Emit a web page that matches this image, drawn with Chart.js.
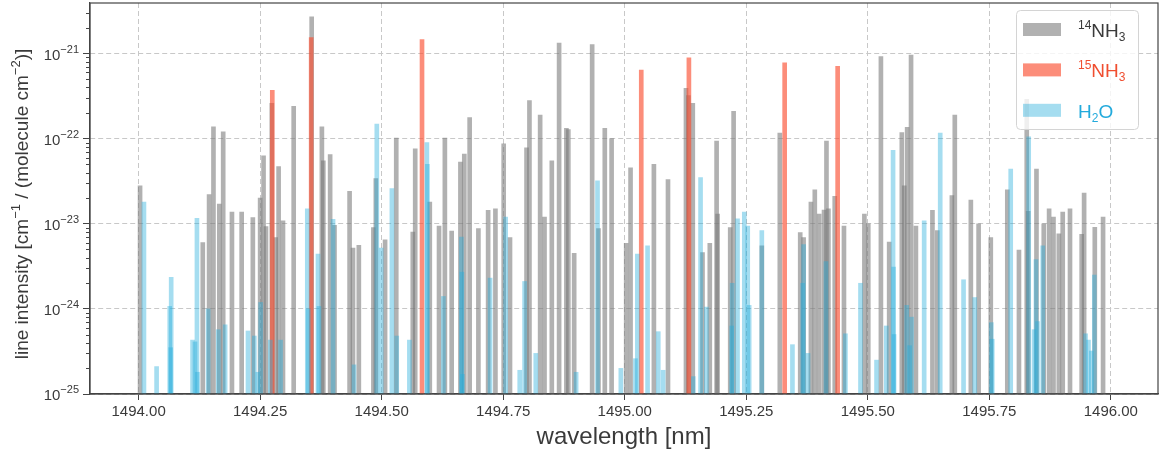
<!DOCTYPE html>
<html>
<head>
<meta charset="utf-8">
<script src="https://cdn.jsdelivr.net/npm/chart.js@4"></script>
<style>
html, body { margin: 0; padding: 0; background: #fff; }
#wrap { width: 1163px; height: 455px; }
</style>
</head>
<body>
<div id="wrap"><canvas id="spectrum" width="1163" height="455"></canvas></div>
<script>
// line positions [nm] and line intensities [cm^-1 / (molecule cm^-2)]
const nh3_14_wl = [
  1494.003, 1494.132, 1494.145, 1494.154, 1494.166, 1494.174, 1494.192, 1494.212, 1494.235, 1494.250,
  1494.257, 1494.262, 1494.274, 1494.282, 1494.288, 1494.297, 1494.319, 1494.356, 1494.377, 1494.380,
  1494.394, 1494.403, 1494.434, 1494.441, 1494.453, 1494.483, 1494.488, 1494.507, 1494.530, 1494.564,
  1494.569, 1494.599, 1494.618, 1494.630, 1494.644, 1494.662, 1494.670, 1494.681, 1494.699, 1494.719,
  1494.734, 1494.751, 1494.764, 1494.798, 1494.804, 1494.826, 1494.835, 1494.850, 1494.865, 1494.880,
  1494.884, 1494.896, 1494.933, 1494.946, 1494.959, 1494.973, 1495.003, 1495.012, 1495.060, 1495.089,
  1495.126, 1495.131, 1495.140, 1495.160, 1495.175, 1495.189, 1495.191, 1495.217, 1495.224, 1495.282,
  1495.319, 1495.361, 1495.368, 1495.383, 1495.391, 1495.400, 1495.410, 1495.415, 1495.419, 1495.432,
  1495.451, 1495.493, 1495.501, 1495.527, 1495.544, 1495.570, 1495.575, 1495.581, 1495.589, 1495.599,
  1495.633, 1495.643, 1495.673, 1495.679, 1495.712, 1495.728, 1495.753, 1495.787, 1495.811, 1495.827,
  1495.830, 1495.847, 1495.862, 1495.873, 1495.882, 1495.893, 1495.901, 1495.916, 1495.940, 1495.945,
  1495.967, 1495.984
];
const nh3_14_int = [
  2.8e-23, 6.0e-24, 2.2e-23, 1.38e-22, 1.7e-23, 1.2e-22, 1.37e-23, 1.37e-23, 1.18e-23, 2.0e-23,
  6.3e-23, 9.3e-24, 2.6e-22, 6.9e-24, 4.7e-23, 1.08e-23, 2.4e-22, 2.7e-21, 1.38e-22, 5.5e-23,
  6.5e-23, 9.6e-24, 2.4e-23, 5.2e-24, 5.6e-24, 9.0e-24, 3.4e-23, 6.5e-24, 1.02e-22, 8.0e-24,
  7.6e-23, 1.8e-23, 9.4e-24, 1.02e-22, 8.2e-24, 5.3e-23, 6.6e-23, 1.77e-22, 8.8e-24, 1.44e-23,
  1.5e-23, 8.7e-23, 6.9e-24, 7.8e-23, 2.8e-22, 1.9e-22, 1.2e-23, 5.5e-23, 1.33e-21, 1.32e-22,
  1.28e-22, 4.5e-24, 1.28e-21, 8.8e-24, 1.32e-22, 1.0e-22, 5.9e-24, 4.56e-23, 5.0e-23, 3.3e-23,
  3.9e-22, 3.2e-22, 2.6e-22, 4.6e-24, 5.9e-24, 9.4e-23, 1.3e-23, 9.0e-24, 2.1e-22, 5.5e-24,
  1.16e-22, 7.9e-24, 6.9e-24, 1.8e-23, 2.5e-23, 1.3e-23, 1.45e-23, 9.4e-23, 1.5e-23, 2.1e-23,
  9.4e-24, 1.3e-23, 1.0e-23, 9.2e-22, 6.1e-24, 1.18e-22, 2.8e-23, 1.36e-22, 9.6e-22, 9.4e-24,
  1.44e-23, 8.3e-24, 2.15e-23, 1.9e-22, 1.9e-23, 1.0e-23, 6.9e-24, 2.5e-23, 4.9e-24, 2.9e-22,
  1.4e-23, 4.4e-23, 1.0e-23, 1.5e-23, 1.2e-23, 7.6e-24, 1.37e-23, 1.5e-23, 7.5e-24, 2.3e-23,
  9.1e-24, 1.2e-23
];

const nh3_15_wl = [1494.275, 1494.355, 1494.583, 1495.034, 1495.132, 1495.329, 1495.438];
const nh3_15_int = [3.7e-22, 1.54e-21, 1.46e-21, 6.4e-22, 8.9e-22, 7.8e-22, 7.1e-22];

const h2o_wl = [
  1494.011, 1494.037, 1494.064, 1494.066, 1494.067, 1494.111, 1494.116, 1494.120, 1494.121, 1494.143,
  1494.164, 1494.178, 1494.225, 1494.238, 1494.245, 1494.251, 1494.271, 1494.292, 1494.347, 1494.349,
  1494.369, 1494.371, 1494.400, 1494.443, 1494.490, 1494.499, 1494.521, 1494.531, 1494.557, 1494.593,
  1494.594, 1494.627, 1494.664, 1494.665, 1494.666, 1494.723, 1494.755, 1494.784, 1494.794, 1494.817,
  1494.900, 1494.944, 1494.992, 1495.022, 1495.026, 1495.047, 1495.069, 1495.079, 1495.141, 1495.156,
  1495.168, 1495.220, 1495.221, 1495.232, 1495.246, 1495.253, 1495.256, 1495.282, 1495.345, 1495.366,
  1495.368, 1495.377, 1495.414, 1495.454, 1495.485, 1495.518, 1495.538, 1495.552, 1495.553, 1495.554,
  1495.580, 1495.586, 1495.590, 1495.616, 1495.649, 1495.697, 1495.720, 1495.754, 1495.756, 1495.794,
  1495.831, 1495.842, 1495.846, 1495.849, 1495.860, 1495.948, 1495.954, 1495.960, 1495.966
];
const h2o_int = [
  1.8e-23, 2.1e-25, 1.07e-24, 3.5e-25, 2.35e-24, 4.3e-25, 4.1e-25, 1.16e-23, 1.8e-25, 1.0e-24,
  5.7e-25, 6.5e-25, 5.5e-25, 4.8e-25, 1.8e-25, 1.19e-24, 4.3e-25, 4.3e-25, 1.5e-23, 1.0e-24,
  4.4e-24, 1.07e-24, 1.13e-23, 2.2e-25, 1.48e-22, 5.2e-24, 2.6e-23, 4.8e-25, 4.3e-25, 9.0e-23,
  5.0e-23, 1.4e-24, 7.0e-24, 2.7e-24, 1.7e-25, 2.3e-24, 1.2e-23, 1.9e-25, 2.1e-24, 3.0e-25,
  1.8e-25, 3.2e-23, 2.0e-25, 2.6e-25, 4.4e-24, 5.5e-24, 5.4e-25, 1.9e-25, 1.6e-25, 3.5e-23,
  1.05e-24, 6.3e-25, 2.0e-24, 1.14e-23, 1.37e-23, 9.4e-24, 1.1e-24, 8.3e-24, 3.8e-25, 2.0e-24,
  5.7e-24, 3.0e-25, 3.6e-24, 5.1e-25, 2.0e-24, 2.5e-25, 6.3e-25, 7.3e-23, 3.1e-24, 5.0e-25,
  1.1e-24, 3.7e-25, 8.0e-25, 1.08e-23, 1.16e-22, 2.2e-24, 1.36e-24, 6.9e-25, 4.4e-25, 4.4e-23,
  1.05e-22, 5.7e-25, 3.8e-24, 7.1e-25, 5.5e-24, 5.1e-25, 4.3e-25, 3.2e-25, 2.5e-24
];

const xTicks = [1494.00, 1494.25, 1494.50, 1494.75, 1495.00, 1495.25, 1495.50, 1495.75, 1496.00];
const yTicks = [1e-25, 1e-24, 1e-23, 1e-22, 1e-21];
const yTickExps = ['\u221225', '\u221224', '\u221223', '\u221222', '\u221221'];

const FONT = '"Liberation Sans", Arial, "DejaVu Sans", sans-serif';
const TEXT = '#3a3a3a';
Chart.defaults.font.family = FONT;

const greyFill = 'rgba(120,120,120,0.58)';
const redFill = 'rgba(250,80,50,0.65)';
const blueFill = 'rgba(40,175,220,0.42)';

const pts = (wl, val) => wl.map((x, i) => ({ x: x, y: val[i] }));

// legend entries: swatch colour, text colour, text pieces [text, size, dy]
const legendRows = [
  { fill: greyFill, text: '#3a3a3a', parts: [['14', 12, -8], ['NH', 19, 0], ['3', 12, 4]] },
  { fill: redFill, text: 'rgb(240,78,48)', parts: [['15', 12, -8], ['NH', 19, 0], ['3', 12, 4]] },
  { fill: blueFill, text: 'rgb(35,170,220)', parts: [['H', 19, 0], ['2', 12, 4], ['O', 19, 0]] }
];
const yTitleParts = [
  ['line intensity [cm', 19, 0], ['\u22121', 13, -8], [' / (molecule cm', 19, 0], ['\u22122', 13, -8], [')]', 19, 0]
];

function richWidth(ctx, parts) {
  let w = 0;
  for (const [t, size] of parts) {
    ctx.font = size + 'px ' + FONT;
    w += ctx.measureText(t).width;
  }
  return w;
}

function drawRich(ctx, x, y, parts, color) {
  ctx.fillStyle = color;
  ctx.textBaseline = 'alphabetic';
  ctx.textAlign = 'left';
  for (const [t, size, dy] of parts) {
    ctx.font = size + 'px ' + FONT;
    ctx.fillText(t, x, y + dy);
    x += ctx.measureText(t).width;
  }
}

const framePlugin = {
  id: 'frame',
  afterDraw(chart) {
    const { ctx, chartArea: a, scales: { y } } = chart;
    ctx.save();
    // minor ticks on the log axis
    ctx.strokeStyle = '#444';
    ctx.lineWidth = 1;
    for (let e = -25; e <= -21; e++) {
      for (let k = 2; k <= 9; k++) {
        const v = k * Math.pow(10, e);
        if (v > y.max) break;
        const py = Math.round(y.getPixelForValue(v)) + 0.5;
        ctx.beginPath();
        ctx.moveTo(a.left - 4, py);
        ctx.lineTo(a.left, py);
        ctx.stroke();
      }
    }
    // full frame round the plot
    ctx.strokeStyle = '#444';
    ctx.lineWidth = 1.2;
    ctx.strokeRect(a.left, a.top, a.right - a.left, a.bottom - a.top);

    // y tick labels as 10 with raised exponent
    yTicks.forEach((v, i) => {
      const py = y.getPixelForValue(v);
      const parts = [['10', 15, 0], [yTickExps[i], 11, -7]];
      const w = richWidth(ctx, parts);
      drawRich(ctx, a.left - 11 - w, py + 6, parts, TEXT);
    });

    // y axis title, rotated
    ctx.save();
    ctx.translate(28, 204);
    ctx.rotate(-Math.PI / 2);
    const tw = richWidth(ctx, yTitleParts);
    drawRich(ctx, -tw / 2, 0, yTitleParts, TEXT);
    ctx.restore();

    // legend box
    const bx = 1016, by = 10, bw = 122, bh = 119;
    ctx.beginPath();
    ctx.roundRect(bx + 0.5, by + 0.5, bw, bh, 4);
    ctx.fillStyle = 'rgba(255,255,255,0.8)';
    ctx.fill();
    ctx.strokeStyle = '#d4d4d4';
    ctx.lineWidth = 1;
    ctx.stroke();
    legendRows.forEach((r, i) => {
      const base = 37 + i * 40.4;
      ctx.fillStyle = r.fill;
      ctx.fillRect(1023, base - 14, 38, 13);
      drawRich(ctx, 1078, base, r.parts, r.text);
    });
    ctx.restore();
  }
};

new Chart(document.getElementById('spectrum'), {
  type: 'bar',
  data: {
    datasets: [
      { label: '14NH3', data: pts(nh3_14_wl, nh3_14_int), backgroundColor: greyFill, order: 3 },
      { label: '15NH3', data: pts(nh3_15_wl, nh3_15_int), backgroundColor: redFill, order: 2 },
      { label: 'H2O', data: pts(h2o_wl, h2o_int), backgroundColor: blueFill, order: 1 }
    ]
  },
  options: {
    responsive: false,
    animation: false,
    devicePixelRatio: 1,
    layout: { padding: { top: 3, right: 5, left: 0, bottom: 0 } },
    datasets: { bar: { barThickness: 4, grouped: false, borderWidth: 0 } },
    plugins: { legend: { display: false }, tooltip: { enabled: false } },
    scales: {
      x: {
        type: 'linear',
        min: 1493.90,
        max: 1496.097,
        bounds: 'data',
        offset: false,
        afterBuildTicks: s => { s.ticks = xTicks.map(v => ({ value: v })); },
        afterFit: s => { s.height = 61; s.paddingLeft = 0; s.paddingRight = 0; },
        ticks: {
          callback: v => Number(v).toFixed(2),
          font: { size: 15 },
          color: TEXT,
          padding: 3,
          maxRotation: 0,
          autoSkip: false
        },
        grid: { offset: false, color: '#c8c8c8', tickColor: '#444', tickLength: 6, lineWidth: 1 },
        border: { color: '#444', width: 1.2, dash: [5, 3] },
        title: {
          display: true,
          text: 'wavelength [nm]',
          font: { size: 24 },
          color: TEXT,
          padding: { top: 0, bottom: 3 }
        }
      },
      y: {
        type: 'logarithmic',
        min: 1e-25,
        max: 3.93e-21,
        bounds: 'data',
        afterBuildTicks: s => { s.ticks = yTicks.map(v => ({ value: v })); },
        afterFit: s => { s.width = 90; s.paddingTop = 0; s.paddingBottom = 0; },
        ticks: {
          callback: () => '',
          font: { size: 15 },
          padding: 4,
          autoSkip: false
        },
        grid: { color: '#c8c8c8', tickColor: '#444', tickLength: 7, lineWidth: 1 },
        border: { color: '#444', width: 1.2, dash: [5, 3] },
        title: { display: false }
      }
    }
  },
  plugins: [framePlugin]
});
</script>
</body>
</html>
